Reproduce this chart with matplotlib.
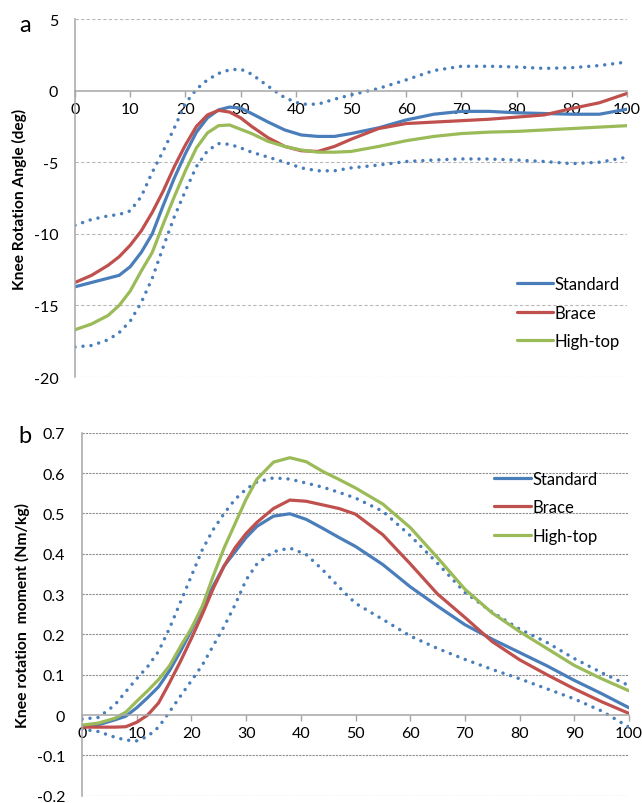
import matplotlib
matplotlib.use("Agg")
import matplotlib.pyplot as plt

plt.rcParams['font.family'] = ['Lato', 'DejaVu Sans']

# gait cycle (%) sample points
pct = [0, 3, 6, 8, 10, 12, 14, 16, 18, 20, 22, 24, 26, 28, 30, 32,
       35, 38, 41, 44, 47, 50, 55, 60, 65, 70, 75, 80, 85, 90, 95, 100]

# panel a: knee rotation angle (deg)
angle_standard = [-13.7, -13.4, -13.1, -12.9, -12.3, -11.3, -10.0, -8.0, -6.1, -4.4, -2.9, -1.9,
                  -1.35, -1.15, -1.22, -1.6, -2.2, -2.75, -3.1, -3.2, -3.2, -3.0, -2.6, -2.05,
                  -1.65, -1.45, -1.45, -1.55, -1.6, -1.65, -1.65, -1.3]
angle_brace = [-13.4, -12.9, -12.2, -11.6, -10.8, -9.8, -8.5, -7.0, -5.3, -3.8, -2.5, -1.7,
               -1.38, -1.5, -1.9, -2.5, -3.3, -3.9, -4.2, -4.25, -3.9, -3.4, -2.65, -2.3,
               -2.2, -2.1, -2.0, -1.85, -1.7, -1.25, -0.85, -0.2]
angle_hightop = [-16.7, -16.3, -15.7, -15.0, -14.0, -12.6, -11.3, -9.3, -7.4, -5.6, -4.0, -2.95,
                 -2.45, -2.4, -2.7, -3.0, -3.55, -3.9, -4.15, -4.3, -4.3, -4.25, -3.9, -3.5,
                 -3.2, -3.0, -2.9, -2.85, -2.75, -2.65, -2.55, -2.45]
angle_sd_upper = [-9.4, -9.0, -8.75, -8.65, -8.4, -7.4, -5.7, -4.2, -2.6, -0.9, 0.1, 0.75,
                  1.2, 1.45, 1.5, 1.15, 0.3, -0.5, -0.95, -0.95, -0.6, -0.3, 0.15, 0.75,
                  1.4, 1.7, 1.7, 1.65, 1.55, 1.6, 1.75, 2.0]
angle_sd_lower = [-17.9, -17.8, -17.4, -16.9, -16.1, -14.8, -13.1, -10.9, -8.8, -7.0, -5.3, -4.2,
                  -3.7, -3.75, -4.0, -4.3, -4.65, -5.0, -5.4, -5.6, -5.6, -5.4, -5.2, -4.95,
                  -4.85, -4.77, -4.78, -4.85, -4.95, -5.1, -5.0, -4.65]

# panel b: knee rotation moment (Nm/kg)
moment_standard = [-0.027, -0.024, -0.012, -0.003, 0.018, 0.043, 0.07, 0.11, 0.158, 0.21, 0.265, 0.32,
                   0.37, 0.405, 0.44, 0.468, 0.493, 0.499, 0.485, 0.463, 0.44, 0.418, 0.373, 0.318,
                   0.27, 0.224, 0.188, 0.155, 0.122, 0.086, 0.053, 0.018]
moment_brace = [-0.03, -0.03, -0.03, -0.029, -0.018, 0.0, 0.03, 0.08, 0.133, 0.19, 0.25, 0.314,
                0.37, 0.415, 0.45, 0.478, 0.512, 0.533, 0.53, 0.521, 0.512, 0.498, 0.447, 0.375,
                0.3, 0.242, 0.182, 0.137, 0.1, 0.065, 0.033, 0.004]
moment_hightop = [-0.025, -0.02, -0.008, 0.007, 0.034, 0.06, 0.088, 0.122, 0.17, 0.215, 0.27, 0.345,
                  0.415, 0.475, 0.535, 0.585, 0.627, 0.638, 0.628, 0.604, 0.584, 0.563, 0.523, 0.465,
                  0.39, 0.312, 0.253, 0.207, 0.165, 0.123, 0.09, 0.06]
moment_sd_upper = [-0.01, -0.006, 0.025, 0.058, 0.09, 0.12, 0.158, 0.215, 0.28, 0.345, 0.41, 0.46,
                   0.5, 0.535, 0.56, 0.578, 0.588, 0.585, 0.575, 0.565, 0.552, 0.538, 0.505, 0.445,
                   0.376, 0.304, 0.255, 0.213, 0.18, 0.14, 0.105, 0.073]
moment_sd_lower = [-0.035, -0.041, -0.055, -0.062, -0.064, -0.053, -0.03, 0.008, 0.047, 0.085, 0.124, 0.172,
                   0.22, 0.274, 0.335, 0.375, 0.405, 0.414, 0.398, 0.36, 0.317, 0.277, 0.237, 0.196,
                   0.165, 0.138, 0.113, 0.09, 0.065, 0.04, 0.01, -0.03]

labels = ["Standard", "Brace", "High-top"]
colors = ["#4a7ebb", "#c0504d", "#9bbb59"]
axis_gray = "#a6a6a6"

fig = plt.figure(figsize=(6.42, 8.04), dpi=100)
ax_a = fig.add_axes([75 / 642, 1 - 378 / 804, 552 / 642, 358 / 804])
ax_b = fig.add_axes([82 / 642, 1 - 796.7 / 804, 547 / 642, 363 / 804])


def style_axis(ax, ylim, yticks, ytick_fmt, grid_style, grid_color):
    ax.set_xlim(0, 100)
    ax.set_ylim(*ylim)
    ax.set_xticks(range(0, 101, 10))
    ax.set_yticks(yticks)
    ax.set_yticklabels([ytick_fmt(v) for v in yticks])
    for v in yticks:
        if v != 0:
            ax.axhline(v, color=grid_color, lw=0.8, ls=grid_style, zorder=0)
    ax.spines['top'].set_visible(False)
    ax.spines['right'].set_visible(False)
    ax.spines['bottom'].set_position(('data', 0))
    ax.spines['bottom'].set_color(axis_gray)
    ax.spines['left'].set_color(axis_gray)
    ax.spines['bottom'].set_linewidth(1.1)
    ax.spines['left'].set_linewidth(1.1)
    ax.tick_params(axis='x', direction='out', length=4, width=1, color=axis_gray,
                   labelsize=11.5, pad=4)
    ax.tick_params(axis='y', length=0, labelsize=11.5, pad=12)
    ax.set_facecolor('none')


def draw_panel(ax, std, brace, hightop, upper, lower):
    dots = dict(color=colors[0], lw=2.5, ls=(0, (0.01, 2.3)), dash_capstyle='round')
    ax.plot(pct, upper, **dots)
    ax.plot(pct, lower, **dots)
    handles = []
    for series, c, lab in zip([std, brace, hightop], colors, labels):
        h, = ax.plot(pct, series, color=c, lw=2.3, label=lab, solid_capstyle='round')
        handles.append(h)
    return handles


# panel a
style_axis(ax_a, (-20, 5), [5, 0, -5, -10, -15, -20], lambda v: f"{v:d}",
           (0, (3, 2)), "#b8b8b8")
h = draw_panel(ax_a, angle_standard, angle_brace, angle_hightop, angle_sd_upper, angle_sd_lower)
ax_a.legend(handles=h, loc='upper left', bbox_to_anchor=(0.785, 0.305), frameon=False,
            fontsize=12, handlelength=2.2, handletextpad=0.1, labelspacing=0.75, borderpad=0)

# panel b
style_axis(ax_b, (-0.2, 0.7), [0.7, 0.6, 0.5, 0.4, 0.3, 0.2, 0.1, 0, -0.1, -0.2],
           lambda v: "0" if v == 0 else f"{v:.1f}", (0, (2, 1)), "#8c8c8c")
h = draw_panel(ax_b, moment_standard, moment_brace, moment_hightop, moment_sd_upper, moment_sd_lower)
ax_b.legend(handles=h, loc='upper left', bbox_to_anchor=(0.738, 0.918), frameon=False,
            fontsize=12, handlelength=2.2, handletextpad=0.1, labelspacing=0.75, borderpad=0)

fig.text(19 / 642, 1 - 199 / 804, "Knee Rotation Angle (deg)", rotation=90,
         ha='center', va='center', fontsize=11.2, fontweight='bold')
fig.text(22 / 642, 1 - 616 / 804, "Knee rotation  moment (Nm/kg)", rotation=90,
         ha='center', va='center', fontsize=11.3, fontweight='bold')
fig.text(25 / 642, 1 - 25 / 804, "a", ha='center', va='center', fontsize=17)
fig.text(25 / 642, 1 - 437 / 804, "b", ha='center', va='center', fontsize=17)

fig.savefig("out.png", dpi=100)
